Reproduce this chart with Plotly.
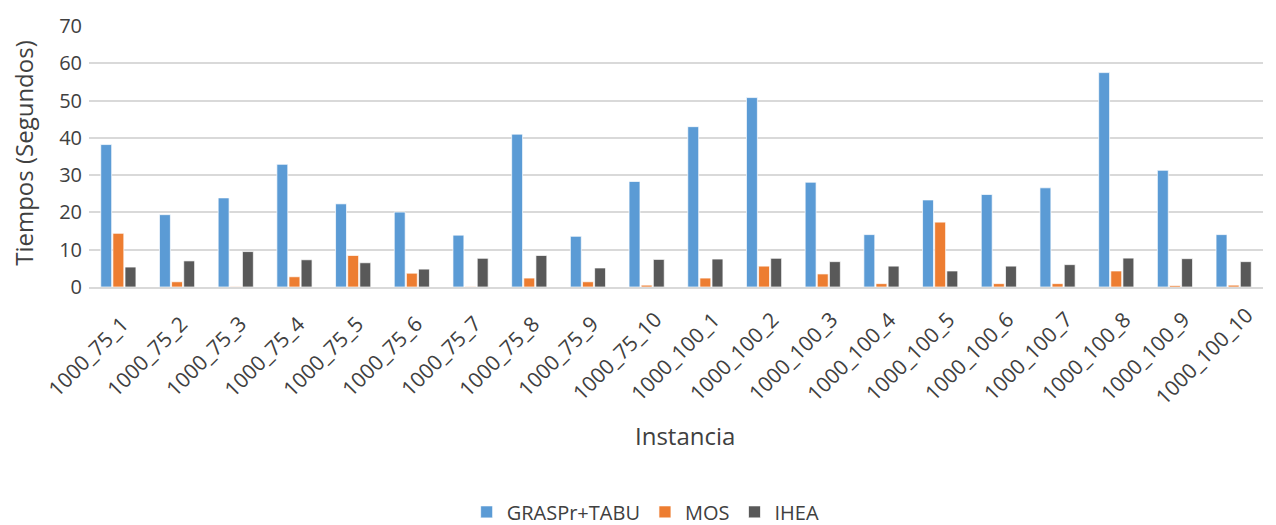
import plotly.graph_objects as go

instancias = [
    "1000_75_1", "1000_75_2", "1000_75_3", "1000_75_4", "1000_75_5",
    "1000_75_6", "1000_75_7", "1000_75_8", "1000_75_9", "1000_75_10",
    "1000_100_1", "1000_100_2", "1000_100_3", "1000_100_4", "1000_100_5",
    "1000_100_6", "1000_100_7", "1000_100_8", "1000_100_9", "1000_100_10",
]
grasp_tabu = [38.2, 19.4, 23.9, 32.9, 22.3, 20.1, 13.9, 41.0, 13.6, 28.3,
              43.0, 50.8, 28.1, 14.05, 23.35, 24.8, 26.6, 57.5, 31.3, 14.05]
mos = [14.4, 1.4, 0.1, 2.75, 8.45, 3.7, 0.1, 2.4, 1.4, 0.5,
       2.4, 5.6, 3.5, 0.9, 17.4, 0.9, 0.9, 4.3, 0.4, 0.5]
ihea = [5.35, 7.0, 9.5, 7.3, 6.5, 4.8, 7.7, 8.45, 5.1, 7.4,
        7.5, 7.7, 6.8, 5.6, 4.3, 5.6, 6.0, 7.75, 7.6, 6.8]
y_ticks = [0, 10, 20, 30, 40, 50, 60, 70]

FONT = "Open Sans"
TEXT = "#404040"

fig = go.Figure()
for name, vals, color in [
    ("GRASPr+TABU", grasp_tabu, "#5B9BD5"),
    ("MOS", mos, "#ED7D31"),
    ("IHEA", ihea, "#595959"),
]:
    fig.add_trace(go.Bar(
        x=instancias, y=vals, name=name,
        marker=dict(color=color, line=dict(color="rgba(255,255,255,0.7)", width=1)),
    ))

# category labels, rotated and centred below each group
annotations = [
    dict(text=lab, xref="x", yref="paper", x=lab, y=-0.266, xshift=-30,
         xanchor="center", yanchor="middle", textangle=-45, showarrow=False,
         font=dict(size=21, family=FONT, color=TEXT))
    for lab in instancias
]
annotations += [
    dict(text="Instancia", xref="paper", yref="paper", x=0.508, y=-0.568,
         xanchor="center", yanchor="middle", showarrow=False,
         font=dict(size=24, family=FONT, color=TEXT)),
    dict(text="Tiempos (Segundos)", xref="paper", yref="paper", x=-0.056, y=0.515,
         xanchor="center", yanchor="middle", textangle=-90, showarrow=False,
         font=dict(size=24, family=FONT, color=TEXT)),
]

fig.update_layout(
    width=1276, height=525,
    margin=dict(l=89, r=13, t=16, b=238),
    paper_bgcolor="white", plot_bgcolor="white",
    barmode="group", bargap=0.38, bargroupgap=0.1,
    font=dict(family=FONT, color=TEXT),
    showlegend=True,
    legend=dict(
        orientation="h", xref="container", yref="container",
        x=0.506, y=0.025, xanchor="center", yanchor="middle",
        font=dict(size=20, family=FONT, color=TEXT),
        itemwidth=30, traceorder="normal",
    ),
    xaxis=dict(
        type="category", categoryarray=instancias,
        range=[-0.5, len(instancias) - 0.5], autorange=False,
        showticklabels=False,
        showgrid=False, showline=True, linecolor="#d9d9d9", linewidth=1.5,
        ticks="",
    ),
    yaxis=dict(
        range=[0, 70], tickvals=y_ticks,
        tickfont=dict(size=20, family=FONT, color=TEXT),
        showgrid=True, gridcolor="#d9d9d9", gridwidth=1.5,
        zeroline=False, showline=False, ticks="", ticklabelstandoff=6,
    ),
    annotations=annotations,
)

fig.write_html("out.html")
